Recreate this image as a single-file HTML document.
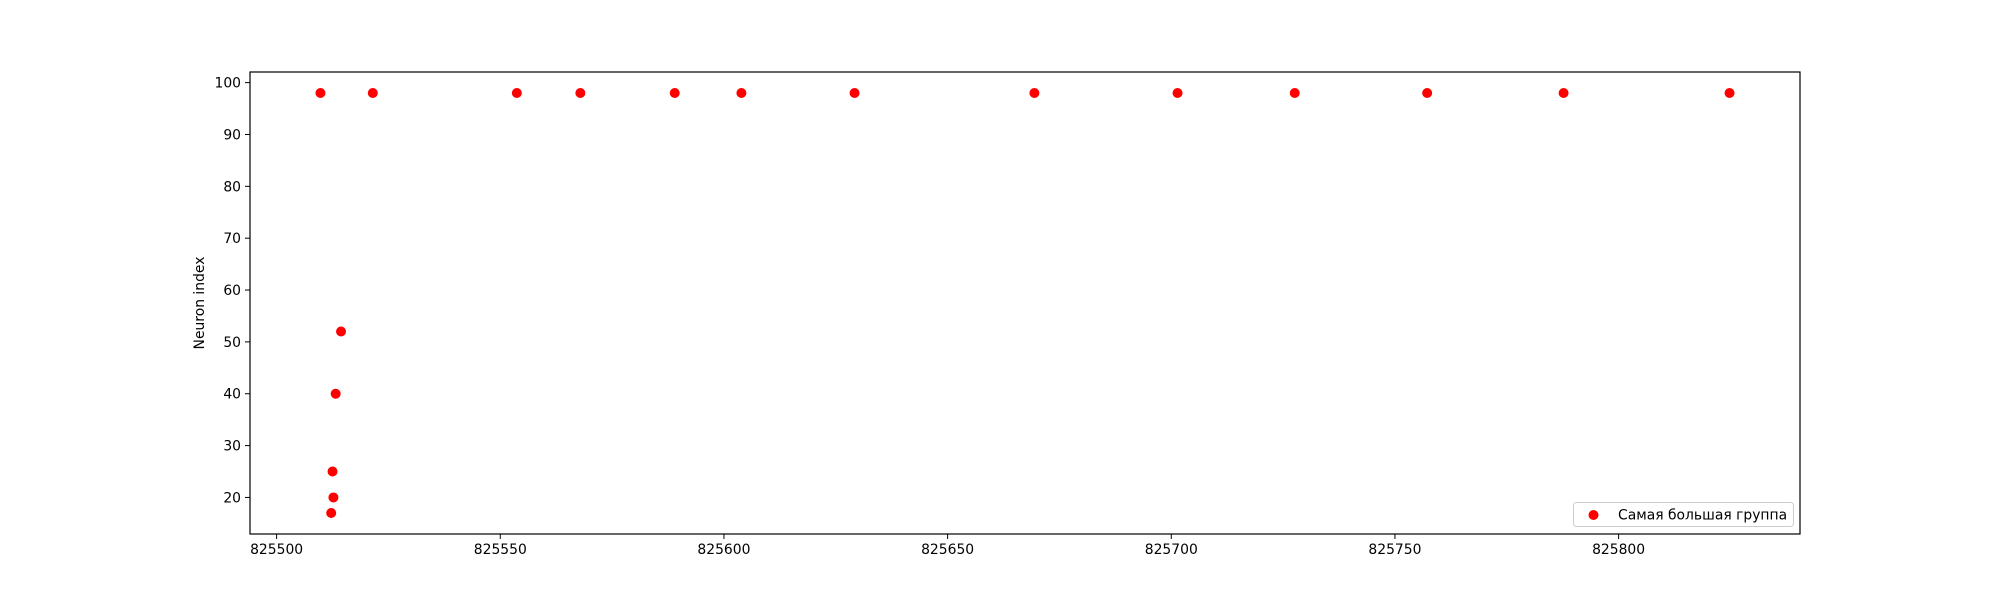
<!DOCTYPE html>
<html><head><meta charset="utf-8"><style>
body{margin:0;background:#fff}
svg{display:block;font-family:"DejaVu Sans","Liberation Sans",sans-serif}
</style></head><body>
<svg id="chart" width="2000" height="600" xmlns="http://www.w3.org/2000/svg">
<rect width="2000" height="600" fill="#fff"/>
<g id="marks"></g>
<g id="axes"></g>
<rect x="250" y="72" width="1550" height="462" fill="none" stroke="#000" stroke-width="1.2"/>
<text transform="translate(204,303) rotate(-90)" text-anchor="middle" font-size="13.9">Neuron index</text>
<g>
<rect x="1573.5" y="502.5" width="220" height="24" rx="3" fill="#fff" fill-opacity="0.8" stroke="#ccc"/>
<circle cx="1593.5" cy="515" r="5" fill="#ff0000"/>
<text x="1618" y="519.5" font-size="13.9" font-family="'DejaVu Sans','Liberation Sans',sans-serif">Самая большая группа</text>
</g>
</svg>
<script>
const xValues=[825509.8,825521.5,825553.7,825567.9,825589.0,825603.9,825629.2,825669.4,825701.4,825727.6,825757.2,825787.7,825824.8,825512.2,825512.7,825512.5,825513.2,825514.4];
const yValues=[98,98,98,98,98,98,98,98,98,98,98,98,98,17,20,25,40,52];
const xTicks=[825500,825550,825600,825650,825700,825750,825800];
const yTicks=[20,30,40,50,60,70,80,90,100];
const NS="http://www.w3.org/2000/svg";
const L=250,R=1800,T=72,B=534;
const xmin=Math.min(...xValues),xmax=Math.max(...xValues),ymin=Math.min(...yValues),ymax=Math.max(...yValues);
const x0=xmin-(xmax-xmin)*0.05,x1=xmax+(xmax-xmin)*0.05,y0=ymin-(ymax-ymin)*0.05,y1=ymax+(ymax-ymin)*0.05;
const sx=v=>L+(v-x0)/(x1-x0)*(R-L);
const sy=v=>B-(v-y0)/(y1-y0)*(B-T);
const marks=document.getElementById('marks'),axes=document.getElementById('axes');
function mk(tag,attrs,parent){const e=document.createElementNS(NS,tag);for(const k in attrs)e.setAttribute(k,attrs[k]);parent.appendChild(e);return e;}
xValues.forEach((v,i)=>{
 const c=mk('circle',{cx:sx(v),cy:sy(yValues[i]),r:5,fill:'#ff0000'},marks);
 
 
});
xTicks.forEach(t=>{
 const x=sx(t);
 const l=mk('line',{x1:x,x2:x,y1:B,y2:B+5,stroke:'#000','stroke-width':1},axes);
 
 
 const tx=mk('text',{x:x,y:B+20,'text-anchor':'middle','font-size':13.9},axes);
 tx.textContent=t;
 
 
});
yTicks.forEach(t=>{
 const y=sy(t);
 const l=mk('line',{x1:L-5,x2:L,y1:y,y2:y,stroke:'#000','stroke-width':1},axes);
 
 
 const tx=mk('text',{x:L-9,y:y+5,'text-anchor':'end','font-size':13.9},axes);
 tx.textContent=t;
 
 
});
</script>
</body></html>
